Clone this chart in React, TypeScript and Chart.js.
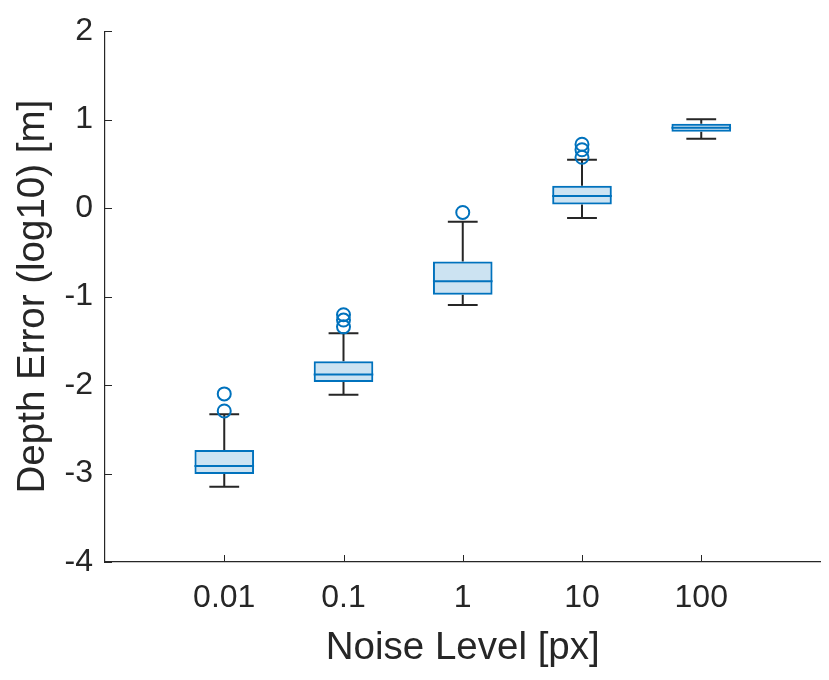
import React, { useEffect, useRef } from "react";
import { Chart, registerables } from "chart.js";

Chart.register(...registerables);

const categories = ["0.01", "0.1", "1", "10", "100"];
const q1 = [-3.005, -1.965, -0.98, 0.04, 0.864];
const q3 = [-2.735, -1.73, -0.602, 0.252, 0.955];
const medians = [-2.915, -1.88, -0.827, 0.136, 0.909];
const whiskerLow = [-3.15, -2.11, -1.094, -0.112, 0.785];
const whiskerHigh = [-2.33, -1.415, -0.154, 0.548, 1.004];
const outlierGroup = [1, 1, 2, 2, 2, 3, 4, 4, 4];
const outlierValue = [-2.1, -2.293, -1.205, -1.265, -1.342, -0.049, 0.722, 0.66, 0.575];
const yTicks = [-4, -3, -2, -1, 0, 1, 2];

const BLUE = "#0072BD";
const DARK = "#262626";
const FONT = "'Liberation Sans', Arial, Helvetica, sans-serif";

const boxPlugin = {
  id: "boxParts",
  beforeDatasetsDraw(chart: any) {
    const { ctx, scales } = chart;
    const xs = scales.x;
    const ys = scales.y;
    ctx.save();
    ctx.strokeStyle = DARK;
    ctx.lineWidth = 2;
    categories.forEach((_, i) => {
      const xc = xs.getPixelForValue(i + 1);
      const capL = xs.getPixelForValue(i + 1 - 0.125);
      const capR = xs.getPixelForValue(i + 1 + 0.125);
      const yLow = ys.getPixelForValue(whiskerLow[i]);
      const yHigh = ys.getPixelForValue(whiskerHigh[i]);
      const yQ1 = ys.getPixelForValue(q1[i]);
      const yQ3 = ys.getPixelForValue(q3[i]);
      ctx.beginPath();
      ctx.moveTo(xc, yQ3);
      ctx.lineTo(xc, yHigh);
      ctx.moveTo(capL, yHigh);
      ctx.lineTo(capR, yHigh);
      ctx.moveTo(xc, yQ1);
      ctx.lineTo(xc, yLow);
      ctx.moveTo(capL, yLow);
      ctx.lineTo(capR, yLow);
      ctx.stroke();
    });
    ctx.restore();
  },
  afterDatasetsDraw(chart: any) {
    const { ctx, scales } = chart;
    const xs = scales.x;
    const ys = scales.y;
    ctx.save();
    ctx.strokeStyle = BLUE;
    ctx.lineWidth = 2;
    categories.forEach((_, i) => {
      const l = xs.getPixelForValue(i + 1 - 0.25);
      const r = xs.getPixelForValue(i + 1 + 0.25);
      const y = ys.getPixelForValue(medians[i]);
      ctx.beginPath();
      ctx.moveTo(l, y);
      ctx.lineTo(r, y);
      ctx.stroke();
    });
    ctx.restore();
  },
  afterDraw(chart: any) {
    const { ctx, scales, chartArea } = chart;
    const xs = scales.x;
    const ys = scales.y;
    ctx.save();
    ctx.strokeStyle = DARK;
    ctx.lineWidth = 1;
    ys.ticks.forEach((t: any) => {
      const y = Math.round(ys.getPixelForValue(t.value)) + 0.5;
      ctx.beginPath();
      ctx.moveTo(chartArea.left, y);
      ctx.lineTo(chartArea.left + 7, y);
      ctx.stroke();
    });
    xs.ticks.forEach((t: any) => {
      const x = Math.round(xs.getPixelForValue(t.value)) + 0.5;
      ctx.beginPath();
      ctx.moveTo(x, chartArea.bottom);
      ctx.lineTo(x, chartArea.bottom - 7);
      ctx.stroke();
    });
    ctx.restore();
  },
};

export default function App() {
  const ref = useRef<HTMLCanvasElement | null>(null);
  useEffect(() => {
    if (!ref.current) return;
    const chart = new Chart(ref.current, {
      type: "bar",
      data: {
        datasets: [
          {
            type: "bar",
            label: "box",
            data: categories.map((_, i) => ({ x: i + 1, y: [q1[i], q3[i]] })) as any,
            backgroundColor: "rgba(0,114,189,0.2)",
            borderColor: BLUE,
            borderWidth: 2,
            borderSkipped: false,
            barPercentage: 0.5,
            categoryPercentage: 1,
            order: 2,
          },
          {
            type: "scatter",
            label: "outliers",
            data: outlierGroup.map((g, i) => ({ x: g, y: outlierValue[i] })),
            pointStyle: "circle",
            pointRadius: 6.5,
            pointBackgroundColor: "rgba(0,0,0,0)",
            pointBorderColor: BLUE,
            pointBorderWidth: 2,
            order: 1,
          } as any,
        ],
      },
      options: {
        responsive: false,
        animation: false,
        events: [],
        layout: { padding: { left: 0, top: 29, right: 8, bottom: 0 } },
        plugins: { legend: { display: false }, tooltip: { enabled: false } },
        scales: {
          x: {
            type: "linear",
            min: 0,
            max: 6,
            offset: false,
            afterBuildTicks: (s: any) => {
              s.ticks = categories.map((_, i) => ({ value: i + 1 }));
            },
            afterFit: (s: any) => {
              s.height = 118;
            },
            ticks: {
              callback: (v: any) => categories[Number(v) - 1] ?? "",
              font: { family: FONT, size: 32 },
              color: DARK,
              padding: 17,
              maxRotation: 0,
              autoSkip: false,
            },
            grid: { drawOnChartArea: false, drawTicks: false },
            border: { display: true, color: DARK, width: 1.2 },
            title: {
              display: true,
              text: "Noise Level [px]",
              font: { family: FONT, size: 38.5 },
              color: DARK,
              padding: { top: 0, bottom: 9 },
            },
          },
          y: {
            type: "linear",
            min: -4,
            max: 2,
            afterBuildTicks: (s: any) => {
              s.ticks = yTicks.map((v) => ({ value: v }));
            },
            afterFit: (s: any) => {
              s.width = 105;
            },
            ticks: {
              font: { family: FONT, size: 32 },
              color: DARK,
              padding: 12,
            },
            grid: { drawOnChartArea: false, drawTicks: false },
            border: { display: true, color: DARK, width: 1.2 },
            title: {
              display: true,
              text: "Depth Error (log10) [m]",
              font: { family: FONT, size: 38.5 },
              color: DARK,
              padding: { top: 10, bottom: 0 },
            },
          },
        },
      },
      plugins: [boxPlugin],
    } as any);
    return () => chart.destroy();
  }, []);
  return (
    <div style={{ position: "fixed", left: 0, top: 0, width: 829, height: 680, background: "#fff" }}>
      <canvas ref={ref} width={829} height={680} />
    </div>
  );
}
